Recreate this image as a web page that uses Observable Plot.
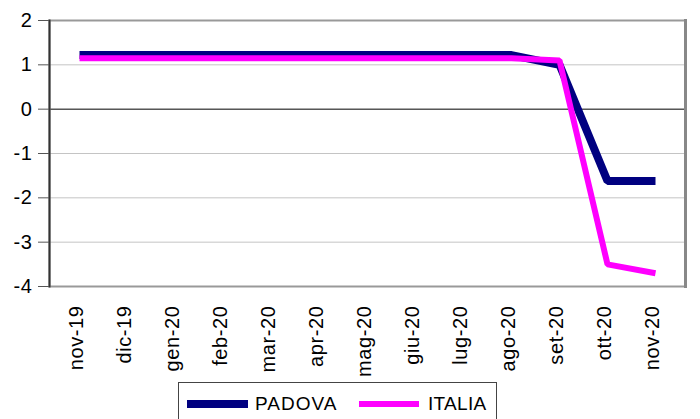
<!DOCTYPE html>
<html>
<head>
<meta charset="utf-8">
<script src="https://cdn.jsdelivr.net/npm/d3@7"></script>
<script src="https://cdn.jsdelivr.net/npm/@observablehq/plot@0.6"></script>
<style>
  html, body { margin: 0; padding: 0; background: #fff; }
  #wrap { position: relative; width: 700px; height: 419px; overflow: hidden; font-family: "Liberation Sans", Arial, sans-serif; }
  #legend { position: absolute; left: 178px; top: 382px; width: 319px; height: 45px; border: 1px solid #444; box-sizing: border-box; background: #fff; }
  .sw { position: absolute; height: 8px; top: 17px; }
  .lb { position: absolute; top: 10px; font-size: 19px; color: #000; letter-spacing: 1px; }
  #chart svg text { font-size: 20px !important; letter-spacing: 0.6px; }
</style>
</head>
<body>
<div id="wrap">
  <div id="chart"></div>
  <div id="legend">
    <div class="sw" style="left:8px;width:61px;background:#000080"></div>
    <div class="lb" style="left:76px">PADOVA</div>
    <div class="sw" style="left:180px;width:60px;background:#ff00ff;height:6px;top:18px"></div>
    <div class="lb" style="left:249px;letter-spacing:0.3px">ITALIA</div>
  </div>
</div>
<script>
const months = ["nov-19","dic-19","gen-20","feb-20","mar-20","apr-20","mag-20","giu-20","lug-20","ago-20","set-20","ott-20","nov-20"];
const padova = [1.22,1.22,1.22,1.22,1.22,1.22,1.22,1.22,1.22,1.22,1.0,-1.62,-1.62];
const italia = [1.15,1.15,1.15,1.15,1.15,1.15,1.15,1.15,1.15,1.15,1.1,-3.5,-3.7];
const yTicks = [-4,-3,-2,-1,0,1,2];

const rows = [];
months.forEach((m, i) => {
  rows.push({month: m, value: padova[i], series: "PADOVA"});
  rows.push({month: m, value: italia[i], series: "ITALIA"});
});

const chart = Plot.plot({
  width: 700,
  height: 419,
  marginLeft: 49,
  marginRight: 15,
  marginTop: 20,
  marginBottom: 133,
  style: {fontFamily: "'Liberation Sans', Arial, sans-serif", background: "#fff", fontSize: "20px"},
  x: {type: "point", domain: months, padding: 0.5, label: null},
  y: {domain: [-4, 2], ticks: yTicks, label: null},
  marks: [
    Plot.gridY(yTicks.filter(d => d !== 0), {stroke: "#c4c4c4", strokeOpacity: 1, strokeWidth: 1}),
    Plot.ruleY([0], {stroke: "#000", strokeWidth: 1}),
    Plot.frame({stroke: "#999", strokeWidth: 2}),
    Plot.frame({anchor: "right", stroke: "#888", strokeWidth: 3}),
    Plot.frame({anchor: "left", stroke: "#333", strokeWidth: 2}),
    Plot.axisY({ticks: yTicks, tickSize: 11, tickPadding: 6, fontSize: 20, stroke: "#555", tickFormat: d => d < 0 ? "-" + Math.abs(d) : String(d)}),
    Plot.axisX({tickSize: 0, tickPadding: 19, tickRotate: -90, fontSize: 20, dx: -3}),
    Plot.line(rows.filter(d => d.series === "PADOVA"), {x: "month", y: "value", stroke: "#000080", strokeWidth: 8, strokeLinejoin: "miter", strokeLinecap: "butt"}),
    Plot.line(rows.filter(d => d.series === "ITALIA"), {x: "month", y: "value", stroke: "#ff00ff", strokeWidth: 6, strokeLinejoin: "miter", strokeLinecap: "butt"})
  ]
});
document.getElementById("chart").appendChild(chart);
</script>
</body>
</html>
